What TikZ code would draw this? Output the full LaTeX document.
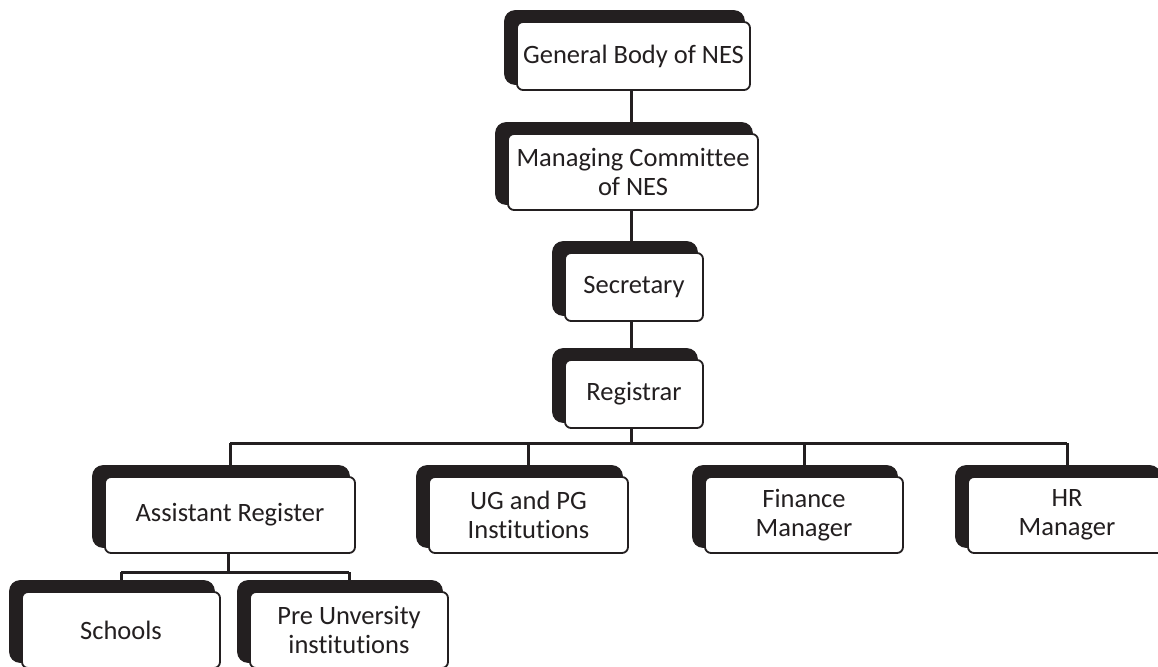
\documentclass[tikz,border=0pt]{standalone}
\usepackage{fontspec}
\setmainfont{Carlito}[Ligatures={NoCommon}]
\usetikzlibrary{calc}
\pgfdeclarelayer{bg}
\pgfsetlayers{bg,main}
\definecolor{ink}{HTML}{231F20}
\tikzset{
  orgbox/.style={draw=ink, line width=1.8pt, fill=white, rounded corners=6pt,
    inner sep=0pt, align=center, text=ink,
    font=\fontsize{26.5}{29}\selectfont},
  conn/.style={draw=ink, line width=3pt},
  shadowfill/.style={fill=ink, rounded corners=11pt}
}
\newcommand{\orgshadow}[1]{%
  \begin{pgfonlayer}{bg}
    \fill[shadowfill] ($(#1.north west)+(-12,-11)$) rectangle ($(#1.south east)+(-6,-6)$);
  \end{pgfonlayer}}
\begin{document}
\begin{tikzpicture}[x=1pt,y=-1pt]
\useasboundingbox (0,0) rectangle (1158,666);
% nodes
\node[orgbox, minimum width=233pt, minimum height=68pt] (gb) at (633.5,56) {General Body of NES};
\node[orgbox, minimum width=250pt, minimum height=76pt] (mc) at (633,172) {Managing Committee\\of NES};
\node[orgbox, minimum width=138pt, minimum height=68pt] (sec) at (634,287) {Secretary};
\node[orgbox, minimum width=138pt, minimum height=68pt] (reg) at (634,394) {Registrar};
\node[orgbox, minimum width=250pt, minimum height=76pt] (ar) at (230,515) {Assistant Register};
\node[orgbox, minimum width=199pt, minimum height=76pt] (ug) at (528.5,515) {UG and PG\\Institutions};
\node[orgbox, minimum width=198pt, minimum height=76pt] (fm) at (804,515) {Finance\\Manager};
\node[orgbox, minimum width=198pt, minimum height=76pt] (hr) at (1067,515) {HR\\Manager};
\node[orgbox, minimum width=198pt, minimum height=76pt] (sch) at (121,630) {Schools};
\node[orgbox, minimum width=198pt, minimum height=76pt] (pu) at (349,630) {Pre Unversity\\institutions};
% shadows
\orgshadow{gb}\orgshadow{mc}\orgshadow{sec}\orgshadow{reg}
\orgshadow{ar}\orgshadow{ug}\orgshadow{fm}\orgshadow{hr}
\orgshadow{sch}\orgshadow{pu}
% connectors
\coordinate (bus) at (631,443);
\coordinate (bus2) at (228,572);
\begin{pgfonlayer}{bg}
\draw[conn] ([xshift=-2pt]gb.south) -- ([xshift=-2pt]gb.south |- mc.north);
\draw[conn] ([xshift=-2pt]mc.south) -- ([xshift=-2pt]mc.south |- sec.north);
\draw[conn] ([xshift=-3pt]sec.south) -- ([xshift=-3pt]sec.south |- reg.north);
\draw[conn] ([xshift=-3pt]reg.south) -- (bus);
\draw[conn] (ar.north |- bus) -- (hr.north |- bus);
\draw[conn] (ar.north |- bus) -- (ar.north);
\draw[conn] (ug.north |- bus) -- (ug.north);
\draw[conn] (fm.north |- bus) -- (fm.north);
\draw[conn] (hr.north |- bus) -- (hr.north);
\draw[conn] ([xshift=-2pt]ar.south) -- (bus2);
\draw[conn] (sch.north |- bus2) -- (pu.north |- bus2);
\draw[conn] (sch.north |- bus2) -- (sch.north);
\draw[conn] (pu.north |- bus2) -- (pu.north);
\end{pgfonlayer}
\end{tikzpicture}
\end{document}
